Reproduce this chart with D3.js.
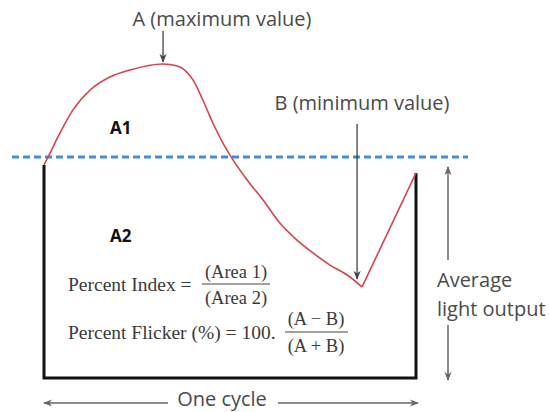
<!DOCTYPE html>
<html><head><meta charset="utf-8">
<script src="https://cdn.jsdelivr.net/npm/d3@7"></script>
<style>body{margin:0;background:#fff}svg{display:block}</style>
</head><body>
<svg id="c" width="549" height="412"></svg>
<script>
// Data (percent of cycle, light output relative to average = 100)
const cycleT = [0, 1.1, 4.3, 7.8, 12.4, 17.7, 23.1, 32.0, 35.8, 40.1, 42.7, 45.4, 48.1, 50.5, 54.6, 58.9, 63.4, 68.0, 72.3, 76.9, 81.5, 85.5, 100];
const lightOutput = [96.4, 100, 110.9, 121.3, 130.3, 136.2, 139.4, 142.1, 141.2, 134.8, 125.8, 115.4, 106.3, 99.5, 89.6, 80.5, 70.1, 62.4, 56.6, 51.1, 46.6, 41.2, 92.8];
const averageOutput = 100;
const labels = {max: "A (maximum value)", min: "B (minimum value)", a1: "A1", a2: "A2", avg1: "Average", avg2: "light output", cycle: "One cycle"};

const svg = d3.select("#c");
const x = d3.scaleLinear().domain([0, 100]).range([44, 416]);
const y = d3.scaleLinear().domain([0, 100]).range([378, 157]);

const pts = cycleT.map((t, i) => ({t, v: lightOutput[i]}));
const iMax = d3.maxIndex(lightOutput), iMin = d3.minIndex(lightOutput);

const defs = svg.append("defs");
function marker(id, color) {
  defs.append("marker").attr("id", id).attr("viewBox", "0 0 10 10").attr("refX", 9).attr("refY", 5)
    .attr("markerWidth", 9).attr("markerHeight", 9).attr("markerUnits", "userSpaceOnUse").attr("orient", "auto-start-reverse")
    .append("path").attr("d", "M0,1 L10,5 L0,9 L3,5 Z").attr("fill", color);
}
marker("ah", "#444");
marker("ag", "#666");

const gray = "#4a4a4a";
const sans = "'Open Sans', sans-serif";
const serif = "'Liberation Serif', serif";

// Box (black frame)
svg.append("path")
  .attr("d", `M${x(0)},${y(lightOutput[0])} V${y(0)} H${x(100)} V${y(lightOutput[lightOutput.length-1])}`)
  .attr("fill", "none").attr("stroke", "#111").attr("stroke-width", 3);

// Average dashed line
svg.append("line").attr("x1", 12).attr("x2", 468).attr("y1", y(averageOutput)).attr("y2", y(averageOutput))
  .attr("stroke", "#3f8fd2").attr("stroke-width", 3).attr("stroke-dasharray", "7,4");

// Red waveform
const smooth = d3.line().x(d => x(d.t)).y(d => y(d.v)).curve(d3.curveMonotoneX);
const lin = d3.line().x(d => x(d.t)).y(d => y(d.v));
svg.append("path").attr("d", smooth(pts.slice(0, iMin + 1))).attr("fill", "none").attr("stroke", "#d4434f").attr("stroke-width", 1.6);
svg.append("path").attr("d", lin(pts.slice(iMin))).attr("fill", "none").attr("stroke", "#d4434f").attr("stroke-width", 1.6);

// A label + arrow
svg.append("text").attr("x", 222).attr("y", 26).attr("text-anchor", "middle").attr("font-family", sans).attr("font-size", 20).attr("fill", gray).text(labels.max);
svg.append("line").attr("x1", x(cycleT[iMax])).attr("x2", x(cycleT[iMax])).attr("y1", 31).attr("y2", y(lightOutput[iMax]) - 2)
  .attr("stroke", "#333").attr("stroke-width", 1.2).attr("marker-end", "url(#ah)");

// B label + arrow
svg.append("text").attr("x", 362).attr("y", 110).attr("text-anchor", "middle").attr("font-family", sans).attr("font-size", 20).attr("fill", gray).text(labels.min);
svg.append("line").attr("x1", x(cycleT[iMin]) - 5).attr("x2", x(cycleT[iMin]) - 5).attr("y1", 124).attr("y2", y(lightOutput[iMin]) - 8)
  .attr("stroke", "#333").attr("stroke-width", 1.2).attr("marker-end", "url(#ah)");

// A1, A2
svg.append("text").attr("x", 110).attr("y", 134).attr("font-family", sans).attr("font-weight", "bold").attr("font-size", 17).attr("fill", "#111").text(labels.a1);
svg.append("text").attr("x", 110).attr("y", 242).attr("font-family", sans).attr("font-weight", "bold").attr("font-size", 17).attr("fill", "#111").text(labels.a2);

// Formulas
const fg = svg.append("g").attr("font-family", serif).attr("fill", "#3a3a3a");
fg.append("text").attr("x", 68).attr("y", 291).attr("font-size", 19.5).text("Percent Index =");
fg.append("text").attr("x", 236).attr("y", 278).attr("font-size", 18.5).attr("text-anchor", "middle").text("(Area 1)");
fg.append("line").attr("x1", 202).attr("x2", 270).attr("y1", 284).attr("y2", 284).attr("stroke", "#444").attr("stroke-width", 1.2);
fg.append("text").attr("x", 236).attr("y", 304).attr("font-size", 18.5).attr("text-anchor", "middle").text("(Area 2)");

fg.append("text").attr("x", 68).attr("y", 339).attr("font-size", 19.5).text("Percent Flicker (%) = 100.");
fg.append("text").attr("x", 316).attr("y", 325).attr("font-size", 18.5).attr("text-anchor", "middle").text("(A \u2212 B)");
fg.append("line").attr("x1", 285).attr("x2", 348).attr("y1", 332).attr("y2", 332).attr("stroke", "#444").attr("stroke-width", 1.2);
fg.append("text").attr("x", 316).attr("y", 352).attr("font-size", 18.5).attr("text-anchor", "middle").text("(A + B)");

// Average light output double arrow
const ax = 448;
svg.append("line").attr("x1", ax).attr("x2", ax).attr("y1", 260).attr("y2", y(averageOutput) + 10)
  .attr("stroke", "#666").attr("stroke-width", 1.5).attr("marker-end", "url(#ag)");
svg.append("line").attr("x1", ax).attr("x2", ax).attr("y1", 325).attr("y2", y(0) + 2)
  .attr("stroke", "#666").attr("stroke-width", 1.5).attr("marker-end", "url(#ag)");
svg.append("text").attr("x", 437).attr("y", 287).attr("font-family", sans).attr("font-size", 20).attr("fill", gray).text(labels.avg1);
svg.append("text").attr("x", 437).attr("y", 316).attr("font-family", sans).attr("font-size", 20).attr("fill", gray).text(labels.avg2);

// One cycle
svg.append("line").attr("x1", 168).attr("x2", x(0)).attr("y1", 403).attr("y2", 403)
  .attr("stroke", "#666").attr("stroke-width", 1.5).attr("marker-end", "url(#ag)");
svg.append("line").attr("x1", 278).attr("x2", x(100) + 2).attr("y1", 403).attr("y2", 403)
  .attr("stroke", "#666").attr("stroke-width", 1.5).attr("marker-end", "url(#ag)");
svg.append("text").attr("x", 222).attr("y", 406).attr("text-anchor", "middle").attr("font-family", sans).attr("font-size", 20).attr("fill", gray).text(labels.cycle);
</script>
</body></html>
